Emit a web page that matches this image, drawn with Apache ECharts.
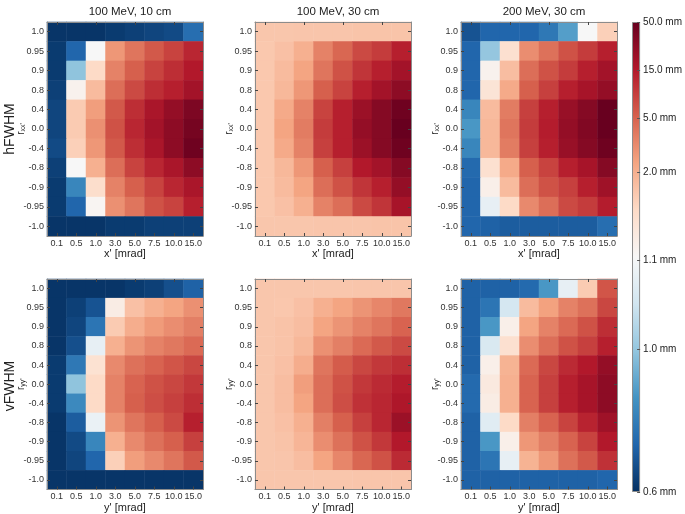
<!DOCTYPE html>
<html>
<head>
<meta charset="utf-8">
<script src="https://cdn.jsdelivr.net/npm/echarts@6/dist/echarts.min.js"></script>
<style>html,body{margin:0;padding:0;background:#fff;}#c{width:685px;height:514px;}</style>
</head>
<body>
<div id="c"></div>
<script>
// ---------- data ----------
const xLabels = ['0.1', '0.5', '1.0', '3.0', '5.0', '7.5', '10.0', '15.0'];
const rLabels = ['1.0', '0.95', '0.9', '0.8', '0.4', '0.0', '-0.4', '-0.8', '-0.9', '-0.95', '-1.0'];
const colTitles = ['100 MeV, 10 cm', '100 MeV, 30 cm', '200 MeV, 30 cm'];
const rowTitles = ['hFWHM', 'vFWHM'];
const cbTicks = [0.6, 1.0, 1.1, 2.0, 5.0, 15.0, 50.0];
const cbPos = [0, 0.304, 0.494, 0.681, 0.796, 0.898, 1.0];
const cmap = ['#053061', '#2166ac', '#4393c3', '#92c5de', '#d1e5f0', '#f7f7f7', '#fddbc7', '#f4a582', '#d6604d', '#b2182b', '#67001f'];

// rows top (r=1.0) to bottom (r=-1.0); columns x'/y' = 0.1 ... 15.0 mrad; values in mm
const hFWHM_100_10 = [
  [0.61, 0.61, 0.61, 0.62, 0.63, 0.64, 0.65, 0.73],
  [0.62, 0.71, 1.12, 2.73, 4.06, 5.81, 8.03, 12.4],
  [0.62, 0.99, 1.54, 3.47, 5.22, 8.03, 11.1, 15.4],
  [0.63, 1.20, 1.87, 4.40, 7.21, 11.1, 13.8, 19.4],
  [0.64, 1.70, 2.52, 5.81, 11.1, 17.3, 24.6, 35.1],
  [0.64, 1.70, 2.95, 6.47, 12.4, 19.4, 27.7, 39.5],
  [0.65, 1.65, 2.73, 5.81, 11.1, 17.3, 27.7, 44.4],
  [0.63, 1.12, 1.99, 4.40, 8.03, 12.4, 17.3, 27.7],
  [0.62, 0.80, 1.49, 3.47, 5.22, 8.03, 12.4, 17.3],
  [0.62, 0.71, 1.16, 2.95, 4.06, 6.47, 8.03, 13.8],
  [0.61, 0.61, 0.61, 0.62, 0.62, 0.63, 0.63, 0.63]
];
const hFWHM_100_30 = [
  [1.75, 1.75, 1.76, 1.76, 1.76, 1.77, 1.77, 1.77],
  [1.73, 1.81, 1.99, 3.47, 4.77, 7.21, 8.94, 13.8],
  [1.73, 1.87, 2.33, 4.06, 6.47, 9.96, 13.8, 19.4],
  [1.73, 1.90, 2.73, 5.22, 8.03, 13.8, 19.4, 27.7],
  [1.73, 2.15, 3.47, 8.03, 13.8, 21.9, 31.2, 44.4],
  [1.73, 2.33, 3.75, 8.94, 13.8, 24.6, 31.2, 49.0],
  [1.73, 2.15, 3.47, 8.47, 13.8, 21.9, 31.2, 44.4],
  [1.73, 1.90, 2.73, 5.22, 8.47, 15.4, 19.4, 31.2],
  [1.73, 1.87, 2.33, 4.40, 6.47, 9.96, 13.8, 24.6],
  [1.73, 1.81, 1.99, 3.47, 4.40, 7.21, 9.96, 18.3],
  [1.75, 1.75, 1.75, 1.76, 1.76, 1.76, 1.77, 1.77]
];
const hFWHM_200_30 = [
  [0.67, 0.71, 0.71, 0.71, 0.76, 0.87, 1.12, 1.65],
  [0.71, 1.00, 1.45, 3.07, 4.23, 6.47, 8.94, 13.8],
  [0.71, 1.20, 1.84, 4.40, 6.47, 8.94, 13.8, 19.4],
  [0.71, 1.40, 2.15, 5.22, 8.47, 13.8, 18.3, 24.6],
  [0.80, 1.87, 3.75, 8.47, 13.8, 23.2, 31.2, 49.0],
  [0.85, 1.90, 4.06, 8.94, 14.5, 24.6, 33.1, 49.0],
  [0.80, 1.90, 3.75, 8.47, 13.8, 23.2, 31.2, 44.4],
  [0.72, 1.45, 2.15, 5.22, 8.03, 13.8, 18.3, 31.2],
  [0.71, 1.23, 1.87, 4.40, 6.47, 8.47, 13.8, 20.6],
  [0.71, 1.08, 1.54, 3.20, 4.40, 7.21, 8.94, 14.5],
  [0.71, 0.70, 0.69, 0.69, 0.69, 0.69, 0.69, 0.73]
];
const vFWHM_100_10 = [
  [0.61, 0.61, 0.61, 0.61, 0.62, 0.63, 0.66, 0.70],
  [0.61, 0.63, 0.67, 1.27, 1.81, 1.99, 2.33, 2.95],
  [0.61, 0.64, 0.75, 1.70, 2.06, 2.62, 3.07, 3.61],
  [0.61, 0.66, 1.08, 1.99, 2.84, 3.47, 3.91, 4.58],
  [0.62, 0.76, 1.43, 3.20, 4.23, 4.96, 6.13, 7.61],
  [0.62, 0.99, 1.54, 3.47, 4.96, 6.47, 7.61, 9.44],
  [0.62, 0.81, 1.54, 3.47, 5.22, 6.83, 8.47, 11.1],
  [0.61, 0.69, 1.085, 2.84, 4.06, 5.22, 7.21, 13.8],
  [0.61, 0.65, 0.80, 1.99, 3.20, 4.23, 5.22, 8.47],
  [0.61, 0.64, 0.71, 1.65, 2.52, 3.20, 4.06, 5.81],
  [0.61, 0.61, 0.61, 0.61, 0.61, 0.61, 0.61, 0.61]
];
const vFWHM_100_30 = [
  [1.75, 1.75, 1.75, 1.75, 1.75, 1.76, 1.76, 1.76],
  [1.75, 1.74, 1.81, 1.99, 2.33, 2.84, 3.33, 3.91],
  [1.75, 1.78, 1.84, 2.33, 2.84, 3.47, 4.06, 4.96],
  [1.75, 1.78, 1.90, 2.95, 3.61, 4.58, 5.81, 7.21],
  [1.75, 1.81, 2.06, 4.06, 5.51, 7.61, 9.44, 11.1],
  [1.75, 1.84, 2.52, 4.40, 6.47, 9.44, 11.7, 14.5],
  [1.75, 1.84, 2.33, 4.40, 6.83, 10.5, 12.4, 16.3],
  [1.75, 1.81, 1.99, 3.61, 5.22, 8.47, 12.4, 21.9],
  [1.75, 1.78, 1.93, 3.07, 4.23, 6.47, 9.44, 15.4],
  [1.75, 1.76, 1.84, 2.33, 3.33, 4.77, 6.47, 11.7],
  [1.75, 1.75, 1.75, 1.75, 1.75, 1.76, 1.76, 1.76]
];
const vFWHM_200_30 = [
  [0.70, 0.70, 0.70, 0.72, 0.85, 1.08, 1.70, 6.13],
  [0.70, 0.75, 1.055, 1.87, 2.42, 3.47, 4.23, 7.61],
  [0.70, 0.85, 1.23, 2.33, 3.47, 4.58, 6.47, 11.1],
  [0.70, 1.06, 1.45, 3.07, 4.40, 6.47, 8.47, 13.8],
  [0.70, 1.23, 1.96, 4.58, 7.61, 11.7, 15.4, 24.6],
  [0.72, 1.32, 1.99, 4.96, 8.47, 13.8, 18.3, 27.7],
  [0.72, 1.27, 1.99, 4.96, 8.47, 13.8, 18.3, 27.7],
  [0.70, 1.07, 1.54, 3.61, 4.96, 8.03, 13.0, 20.6],
  [0.70, 0.85, 1.23, 2.73, 3.61, 4.96, 8.03, 15.4],
  [0.70, 0.75, 1.08, 1.96, 2.73, 4.23, 5.81, 10.5],
  [0.70, 0.70, 0.70, 0.70, 0.70, 0.70, 0.70, 0.71]
];

const panels = [hFWHM_100_10, hFWHM_100_30, hFWHM_200_30, vFWHM_100_10, vFWHM_100_30, vFWHM_200_30];

// ---------- colour norm (piecewise log between colorbar ticks) ----------
function norm(v) {
  if (v <= cbTicks[0]) return 0;
  for (let i = 0; i < cbTicks.length - 1; i++) {
    const a = cbTicks[i], b = cbTicks[i + 1];
    if (v <= b) return cbPos[i] + (cbPos[i + 1] - cbPos[i]) * Math.log(v / a) / Math.log(b / a);
  }
  return 1;
}

// ---------- layout ----------
const FONT = 'Liberation Sans, Arial, sans-serif';
const colLeft = [47, 255, 461];
const rowTop = [22, 279];
const PW = 156, PH = 214;

const grids = [], xAxes = [], yAxes = [], series = [];
panels.forEach((mat, p) => {
  const row = Math.floor(p / 3), col = p % 3;
  grids.push({ left: colLeft[col], top: rowTop[row], width: PW, height: PH });
  const lineC = '#8c8c8c';
  const tick = { show: true, inside: true, length: 3, alignWithLabel: true, lineStyle: { color: '#444', width: 1 } };
  const axName = row === 0 ? "x' [mrad]" : "y' [mrad]";
  const yName = row === 0 ? "r{s|xx'}" : "r{s|yy'}";
  xAxes.push({
    type: 'category', gridIndex: p, data: xLabels, position: 'bottom', z: 10,
    axisLine: { show: true, lineStyle: { color: lineC } }, axisTick: tick,
    axisLabel: { fontSize: 9, color: '#333', margin: 3, fontFamily: FONT, interval: 0 },
    splitLine: { show: false },
    name: axName, nameLocation: 'middle', nameGap: 12.5, nameMoveOverlap: false,
    nameTextStyle: { fontSize: 11, color: '#222', fontFamily: FONT }
  });
  xAxes.push({
    type: 'category', gridIndex: p, data: xLabels, position: 'top', z: 10,
    axisLine: { show: true, lineStyle: { color: lineC } }, axisTick: tick,
    axisLabel: { show: false }, splitLine: { show: false }
  });
  yAxes.push({
    type: 'category', gridIndex: p, data: rLabels, inverse: true, position: 'left', z: 10,
    axisLine: { show: true, lineStyle: { color: lineC } }, axisTick: tick,
    axisLabel: { fontSize: 9, color: '#333', margin: 3, fontFamily: FONT, interval: 0 },
    splitLine: { show: false },
    name: yName, nameLocation: 'middle', nameGap: 20, nameRotate: 90, nameMoveOverlap: false,
    nameTextStyle: { fontSize: 10, color: '#222', fontFamily: FONT,
      rich: { s: { fontSize: 7, fontFamily: FONT, color: '#222', padding: [5, 0, 0, 0] } } }
  });
  yAxes.push({
    type: 'category', gridIndex: p, data: rLabels, inverse: true, position: 'right', z: 10,
    axisLine: { show: true, lineStyle: { color: lineC } }, axisTick: tick,
    axisLabel: { show: false }, splitLine: { show: false }
  });
  const data = [];
  mat.forEach((rowVals, ri) => rowVals.forEach((v, ci) => data.push([ci, ri, norm(v), v])));
  series.push({
    type: 'heatmap', xAxisIndex: 2 * p, yAxisIndex: 2 * p, data: data,
    itemStyle: { borderWidth: 0 }, emphasis: { disabled: true }, progressive: 0
  });
});

// colorbar
const cbIdx = grids.length;
grids.push({ left: 632, top: 22, width: 13, height: 470 });
xAxes.push({ type: 'category', gridIndex: cbIdx, data: ['cb'], show: false });
yAxes.push({
  type: 'value', gridIndex: cbIdx, min: 0, max: 1, position: 'right', z: 10,
  axisLine: { show: false }, splitLine: { show: false },
  axisTick: { show: true, inside: true, length: 3, customValues: cbPos, lineStyle: { color: '#555' } },
  axisLabel: {
    show: true, customValues: cbPos, fontSize: 10, color: '#222', margin: 3, fontFamily: FONT,
    formatter: function (v) {
      let best = 0;
      cbPos.forEach((q, i) => { if (Math.abs(q - v) < Math.abs(cbPos[best] - v)) best = i; });
      return cbTicks[best].toFixed(1) + ' mm';
    }
  }
});
series.push({
  type: 'bar', xAxisIndex: 2 * panels.length, yAxisIndex: 2 * panels.length, data: [1], barWidth: '100%',
  silent: true,
  itemStyle: {
    borderColor: '#8c8c8c', borderWidth: 1,
    color: {
      type: 'linear', x: 0, y: 1, x2: 0, y2: 0,
      colorStops: cmap.map((c, i) => ({ offset: i / (cmap.length - 1), color: c }))
    }
  }
});

const chart = echarts.init(document.getElementById('c'), null, { renderer: 'canvas' });
chart.setOption({
  animation: false,
  backgroundColor: '#fff',
  title: colTitles.map((t, i) => ({
    text: t, left: colLeft[i] + PW / 2, top: 1, textAlign: 'center',
    textStyle: { fontSize: 11.5, fontWeight: 'normal', color: '#222', fontFamily: FONT }
  })),
  graphic: rowTitles.map((t, i) => ({
    type: 'text', x: 10, y: rowTop[i] + PH / 2, rotation: Math.PI / 2,
    style: { text: t, fontSize: 14, fontFamily: FONT, fill: '#222', textAlign: 'center', textVerticalAlign: 'middle' }
  })),
  visualMap: {
    type: 'continuous', show: false, min: 0, max: 1, dimension: 2,
    seriesIndex: [0, 1, 2, 3, 4, 5], inRange: { color: cmap }
  },
  grid: grids,
  xAxis: xAxes,
  yAxis: yAxes,
  series: series
});
</script>
</body>
</html>
